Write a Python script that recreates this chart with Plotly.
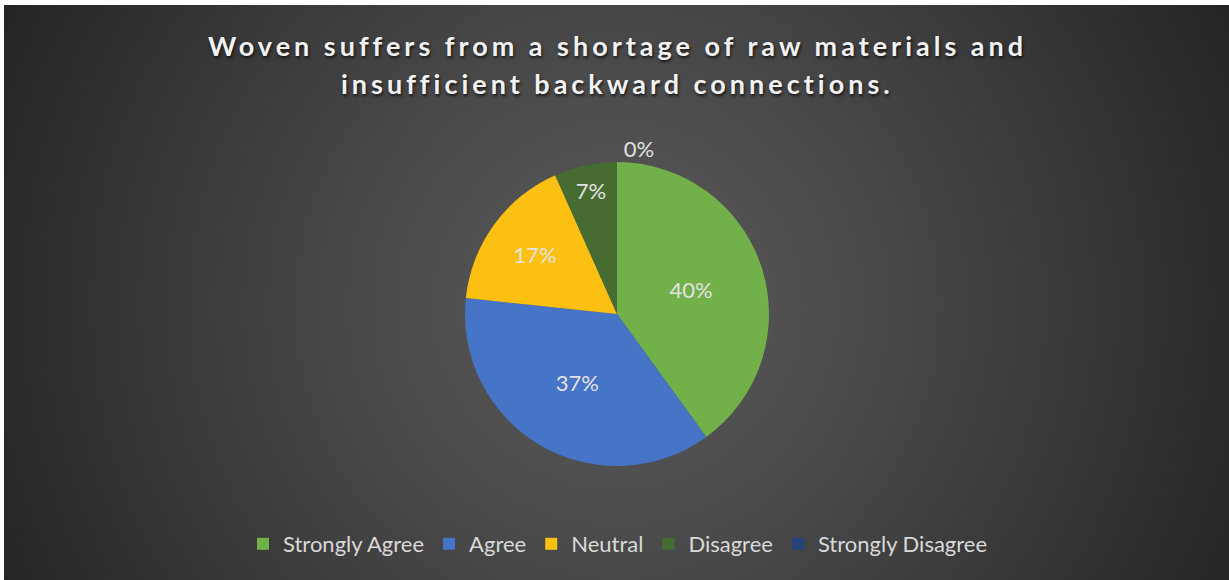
import zlib, struct, base64
import numpy as np
import plotly.graph_objects as go

# ---- data ----
categories = ["Strongly Agree", "Agree", "Neutral", "Disagree", "Strongly Disagree"]
counts = [12, 11, 5, 2, 0]
slice_colors = ["#72b04a", "#4674c6", "#fcc012", "#466c31", "#264478"]
title_lines = ["Woven suffers from a shortage of raw materials and",
               "insufficient backward connections."]

W, H = 1229, 580
X0, Y0 = 4, 5  # white border left / top

# ---- radial gradient background as an inline PNG ----
def png_gray(arr):
    h, w = arr.shape
    raw = b"".join(b"\x00" + arr[i].tobytes() for i in range(h))
    def chunk(t, d):
        c = struct.pack(">I", len(d)) + t + d
        return c + struct.pack(">I", zlib.crc32(t + d) & 0xffffffff)
    return (b"\x89PNG\r\n\x1a\n"
            + chunk(b"IHDR", struct.pack(">IIBBBBB", w, h, 8, 0, 0, 0, 0))
            + chunk(b"IDAT", zlib.compress(raw, 9))
            + chunk(b"IEND", b""))

gw, gh = (W - X0) // 2, (H - Y0) // 2
yy, xx = np.mgrid[0:gh, 0:gw].astype(float)
cx, cy = gw * 0.5, gh * 0.52
d = np.sqrt((xx - cx) ** 2 + (yy - cy) ** 2) / np.sqrt(cx ** 2 + cy ** 2)
val = 0x5b - (0x5b - 0x25) * d ** 1.15
img = np.clip(val, 0, 255).astype(np.uint8)
bg_uri = "data:image/png;base64," + base64.b64encode(png_gray(img)).decode()

fig = go.Figure()
fig.add_trace(go.Pie(
    labels=categories,
    values=counts,
    sort=False,
    direction="clockwise",
    rotation=0,
    marker=dict(colors=slice_colors, line=dict(width=0)),
    texttemplate="%{percent:.0%}",
    textposition=["inside", "inside", "inside", "inside", "outside"],
    insidetextorientation="horizontal",
    textfont=dict(family="Lato", size=22, color="#e2e2e2"),
    outsidetextfont=dict(family="Lato", size=22, color="#e2e2e2"),
    hoverinfo="label+percent",
    showlegend=True,
    domain=dict(x=[465 / W, 769 / W], y=[1 - 466 / H, 1 - 162 / H]),
))

fig.add_layout_image(dict(
    source=bg_uri, xref="paper", yref="paper",
    x=X0 / W, y=1 - Y0 / H, sizex=1 - X0 / W, sizey=1 - Y0 / H,
    xanchor="left", yanchor="top", sizing="stretch", layer="below",
))

title_font = dict(family="Lato", size=27, color="#f2f2f2", weight="bold",
                  shadow="1px 2px 3px rgba(0,0,0,0.7)")
for line, yb in zip(title_lines, [64, 101.5]):
    fig.add_annotation(
        text=f'<span style="letter-spacing:4px">{line}</span>',
        xref="paper", yref="paper", x=617 / W, y=1 - yb / H,
        xanchor="center", yanchor="bottom", showarrow=False, font=title_font,
    )

fig.update_layout(
    width=W, height=H,
    margin=dict(l=0, r=0, t=0, b=0),
    paper_bgcolor="white",
    plot_bgcolor="rgba(0,0,0,0)",
    legend=dict(orientation="h", x=618 / W, xanchor="center",
                y=1 - 544 / H, yanchor="middle",
                font=dict(family="Lato", size=22, color="#d9d9d9"),
                bgcolor="rgba(0,0,0,0)", traceorder="normal"),
)

fig.write_html("out.html")
